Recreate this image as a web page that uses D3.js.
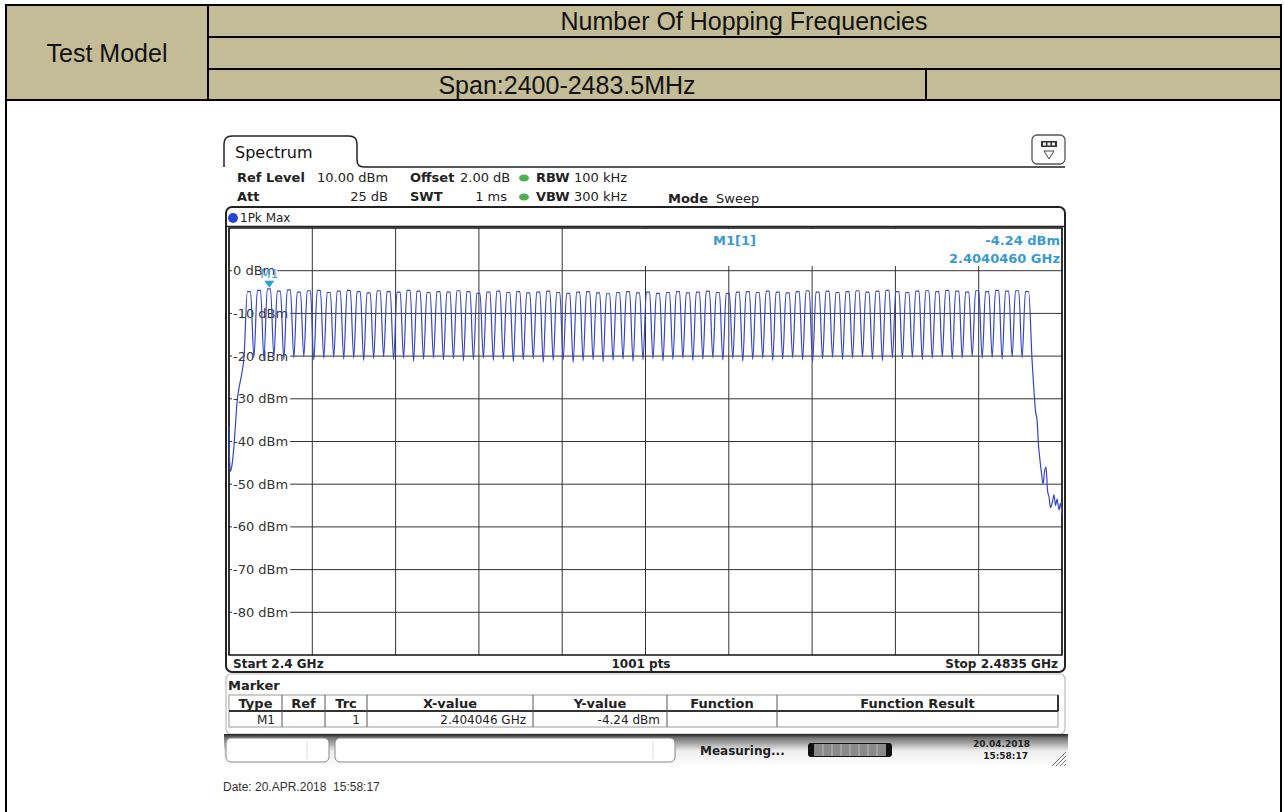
<!DOCTYPE html>
<html>
<head>
<meta charset="utf-8">
<script src="https://cdn.jsdelivr.net/npm/d3@7/dist/d3.min.js"></script>
<style>
  body { margin: 0; background: #fff; }
  svg { display: block; }
  .hdr { font-family: "Liberation Sans", Arial, sans-serif; font-size: 25px; fill: #111; }
  .ins { font-family: "DejaVu Sans", Verdana, sans-serif; font-size: 12px; fill: #222; }
  .b { font-weight: bold; }
  .mk { fill: #3a9ad2; font-weight: bold; font-size: 13px; }
</style>
</head>
<body>
<svg id="chart" width="1285" height="812"></svg>
<script>
// ---------------- data ----------------
const startMHz = 2400
const stopMHz = 2483.5
const channelsMHz = d3.range(2402, 2481)   // 79 hopping channels, 1 MHz apart

// peak level of each channel (dBm)
const peakLevels = [-4.9, -4.6, -4.24, -4.8, -4.5, -5.0, -4.7, -4.6, -5.1, -4.8,
  -4.6, -4.9, -5.2, -4.7, -4.9, -5.0, -4.6, -4.8, -5.1, -4.9,
  -5.0, -4.7, -4.9, -5.3, -5.0, -4.8, -5.1, -4.9, -5.2, -5.0,
  -4.8, -5.1, -5.3, -5.0, -4.9, -5.2, -5.4, -5.1, -4.9, -5.2,
  -5.0, -5.3, -5.1, -4.9, -5.2, -5.0, -4.8, -5.1, -5.3, -5.0,
  -4.9, -5.1, -4.8, -5.0, -5.2, -4.9, -4.7, -5.0, -4.8, -5.1,
  -4.9, -4.7, -5.0, -4.8, -4.6, -4.9, -5.1, -4.8, -4.7, -4.9,
  -4.6, -4.8, -5.0, -4.7, -4.9, -4.6, -4.8, -4.7, -4.9]

// dip between neighbouring channels (dBm)
const troughLevels = [-20.3, -20.6, -20.1, -20.8, -20.4, -20.2, -20.9, -20.5, -20.3, -20.7,
  -20.4, -21.0, -20.6, -20.2, -20.8, -20.5, -21.2, -20.7, -20.4, -20.9,
  -20.6, -21.1, -20.8, -20.5, -21.0, -20.7, -21.3, -20.9, -20.6, -21.4,
  -21.0, -20.8, -21.5, -21.1, -20.9, -21.3, -21.0, -20.7, -21.2, -20.9,
  -20.6, -21.1, -20.8, -20.5, -21.0, -20.7, -20.4, -20.9, -20.6, -21.2,
  -20.8, -20.5, -21.0, -20.7, -20.4, -20.9, -21.3, -20.6, -20.3, -20.8,
  -20.5, -20.2, -20.7, -21.1, -20.4, -20.6, -20.3, -20.8, -20.5, -20.2,
  -20.6, -20.4, -20.1, -20.5, -20.3, -20.7, -20.2, -20.4]

// band edges [MHz, dBm]
const leftEdge = [[2400.0, -36.5], [2400.05, -44], [2400.15, -47], [2400.3, -45.5], [2400.5, -41],
  [2400.65, -36], [2400.8, -31], [2401.0, -27.5], [2401.25, -24.5], [2401.5, -20.4]]
const rightEdge = [[2480.5, -21], [2480.7, -28.5], [2480.85, -33], [2481.0, -35], [2481.15, -41],
  [2481.3, -44.5], [2481.45, -47.5], [2481.6, -50], [2481.75, -47], [2481.9, -46],
  [2482.05, -51.5], [2482.2, -53], [2482.35, -55.5], [2482.55, -54], [2482.7, -52.5],
  [2482.85, -55], [2483.0, -53.5], [2483.2, -56], [2483.35, -54.5], [2483.5, -57]]

const yLevels = [0, -10, -20, -30, -40, -50, -60, -70, -80]
const yTickLabels = ["0 dBm", "-10 dBm", "-20 dBm", "-30 dBm", "-40 dBm", "-50 dBm", "-60 dBm", "-70 dBm", "-80 dBm"]

const marker = { name: "M1", freqMHz: 2404.046, level: -4.24 }

const tableHead = ["Type", "Ref", "Trc", "X-value", "Y-value", "Function", "Function Result"]
const tableRow = ["M1", "", "1", "2.404046 GHz", "-4.24 dBm", "", ""]

// ---------------- page ----------------
const svg = d3.select("#chart")
const tan = "#c4bc97"

// report header table
svg.append("rect").attr("x", 6).attr("y", 5).attr("width", 1275).attr("height", 95)
  .attr("fill", tan).attr("stroke", "#000").attr("stroke-width", 2)
svg.append("line").attr("x1", 208).attr("x2", 208).attr("y1", 5).attr("y2", 100).attr("stroke", "#000").attr("stroke-width", 2)
svg.append("line").attr("x1", 208).attr("x2", 1281).attr("y1", 37).attr("y2", 37).attr("stroke", "#000").attr("stroke-width", 2)
svg.append("line").attr("x1", 208).attr("x2", 1281).attr("y1", 69).attr("y2", 69).attr("stroke", "#000").attr("stroke-width", 2)
svg.append("line").attr("x1", 926).attr("x2", 926).attr("y1", 69).attr("y2", 100).attr("stroke", "#000").attr("stroke-width", 2)
svg.append("path").attr("d", "M6,100 V812 M1281,100 V812").attr("stroke", "#000").attr("stroke-width", 2).attr("fill", "none")

svg.append("text").attr("class", "hdr").attr("x", 107).attr("y", 62).attr("text-anchor", "middle").text("Test Model")
svg.append("text").attr("class", "hdr").attr("x", 744).attr("y", 30).attr("text-anchor", "middle").text("Number Of Hopping Frequencies")
svg.append("text").attr("class", "hdr").attr("x", 567).attr("y", 94).attr("text-anchor", "middle").text("Span:2400-2483.5MHz")

// ---------------- instrument screen ----------------
const ins = svg.append("g").attr("class", "ins")

// tab
ins.append("path")
  .attr("d", "M224,167 V144 Q224,136 232,136 H349 Q357,136 357,144 V160 Q357,167 364,167 H1065")
  .attr("fill", "none").attr("stroke", "#222").attr("stroke-width", 1.5)
ins.append("text").attr("x", 235).attr("y", 158).style("font-size", "16px").style("fill", "#111").text("Spectrum")

// menu icon
ins.append("rect").attr("x", 1032).attr("y", 135).attr("width", 33).attr("height", 29).attr("rx", 5)
  .attr("fill", "#fff").attr("stroke", "#555").attr("stroke-width", 1.3)
ins.append("rect").attr("x", 1041).attr("y", 141).attr("width", 16).attr("height", 6).attr("fill", "#333")
ins.selectAll(".sq").data([0, 1, 2]).enter().append("rect")
  .attr("x", d => 1043 + d * 4.5).attr("y", 142.5).attr("width", 3).attr("height", 3).attr("fill", "#eee")
ins.append("path").attr("d", "M1044,151 H1054 L1049,159 Z").attr("fill", "none").attr("stroke", "#444")

// settings lines
function label(x, y, bold, txt, anchor) {
  ins.append("text").attr("x", x).attr("y", y).attr("class", bold ? "b" : null)
    .attr("text-anchor", anchor || "start").style("font-size", "13px").text(txt)
}
label(237, 182, true, "Ref Level"); label(317, 182, false, "10.00 dBm")
label(237, 201, true, "Att"); label(388, 201, false, "25 dB", "end")
label(410, 182, true, "Offset"); label(460, 182, false, "2.00 dB")
label(410, 201, true, "SWT"); label(507, 201, false, "1 ms", "end")
label(536, 182, true, "RBW"); label(574, 182, false, "100 kHz")
label(536, 201, true, "VBW"); label(574, 201, false, "300 kHz")
label(668, 203, true, "Mode"); label(716, 203, false, "Sweep")
ins.selectAll(".led").data([178, 197]).enter().append("ellipse")
  .attr("cx", 524).attr("cy", d => d).attr("rx", 5).attr("ry", 3.5).attr("fill", "#4caf50")

// plot frame
ins.append("rect").attr("x", 226).attr("y", 207).attr("width", 839).attr("height", 465).attr("rx", 6)
  .attr("fill", "#fff").attr("stroke", "#222").attr("stroke-width", 2)
ins.append("circle").attr("cx", 233).attr("cy", 218).attr("r", 5).attr("fill", "#2545d0")
ins.append("text").attr("x", 240).attr("y", 222).style("font-size", "12px").text("1Pk Max")

const x = d3.scaleLinear().domain([startMHz, stopMHz]).range([229, 1062])
const y = d3.scaleLinear().domain([-90, 10]).range([655, 228])

const grid = ins.append("g").attr("stroke", "#333").attr("stroke-width", 1)
const xDiv = d3.range(0, 11).map(i => startMHz + i * (stopMHz - startMHz) / 10)
grid.selectAll(".vx").data(xDiv).enter().append("line")
  .attr("x1", d => x(d)).attr("x2", d => x(d)).attr("y1", y(10)).attr("y2", y(-90))
grid.selectAll(".hy").data(yLevels).enter().append("line")
  .attr("x1", x(startMHz)).attr("x2", x(stopMHz)).attr("y1", d => y(d)).attr("y2", d => y(d))

// frame around graph area
ins.append("rect").attr("x", x(startMHz)).attr("y", y(10)).attr("width", x(stopMHz) - x(startMHz)).attr("height", y(-90) - y(10))
  .attr("fill", "none").attr("stroke", "#111").attr("stroke-width", 1.5)
ins.append("line").attr("x1", 226).attr("x2", 1065).attr("y1", 226.5).attr("y2", 226.5).attr("stroke", "#222").attr("stroke-width", 1.5)

// level labels sit on a white patch that hides the grid line
const yl = ins.append("g")
yl.selectAll("text").data(yLevels).enter().append("text")
  .attr("x", 233).attr("y", d => y(d) + 4.5).style("font-size", "13px").style("fill", "#333")
  .text((d, i) => yTickLabels[i])
  .each(function() {
    const bb = this.getBBox()
    d3.select(this.parentNode).insert("rect", () => this)
      .attr("x", bb.x - 1).attr("y", bb.y).attr("width", bb.width + 3).attr("height", bb.height).attr("fill", "#fff")
  })

// marker readout box
ins.append("rect").attr("x", x(2441.5) + 1).attr("y", y(10) + 1).attr("width", x(stopMHz) - x(2441.5) - 2).attr("height", 37).attr("fill", "#fff")
ins.append("text").attr("class", "mk").attr("x", 713).attr("y", 245).text("M1[1]")
ins.append("text").attr("class", "mk").attr("x", 1060).attr("y", 245).attr("text-anchor", "end").text("-4.24 dBm")
ins.append("text").attr("class", "mk").attr("x", 1060).attr("y", 263).attr("text-anchor", "end").text("2.4040460 GHz")

// trace: edges plus, per channel, a rounded top between two dips
const tracePts = leftEdge.slice()
channelsMHz.forEach(function(f, i) {
  tracePts.push([f - 0.16, peakLevels[i]])
  tracePts.push([f + 0.16, peakLevels[i]])
  if (i < troughLevels.length) tracePts.push([f + 0.5, troughLevels[i]])
})
rightEdge.forEach(p => tracePts.push(p))

const line = d3.line().x(d => x(d[0])).y(d => y(d[1])).curve(d3.curveMonotoneX)
ins.append("path").datum(tracePts).attr("d", line)
  .attr("fill", "none").attr("stroke", "#3546c4").attr("stroke-width", 1.2)

// marker M1
const mx = x(marker.freqMHz), my = y(marker.level)
ins.append("path").attr("d", `M${mx - 5},${my - 8} H${mx + 5} L${mx},${my - 1} Z`).attr("fill", "#2a9fd6")
ins.append("text").attr("x", mx).attr("y", my - 11).attr("text-anchor", "middle")
  .style("font-size", "12px").style("fill", "#3a9ad2").text(marker.name)

// bottom of the graph frame
ins.append("text").attr("class", "b").attr("x", 233).attr("y", 668).text("Start 2.4 GHz")
ins.append("text").attr("class", "b").attr("x", 641).attr("y", 668).attr("text-anchor", "middle").text("1001 pts")
ins.append("text").attr("class", "b").attr("x", 1058).attr("y", 668).attr("text-anchor", "end").text("Stop 2.4835 GHz")

// marker table panel
ins.append("rect").attr("x", 226).attr("y", 674).attr("width", 839).attr("height", 60).attr("rx", 5)
  .attr("fill", "#fff").attr("stroke", "#bbb").attr("stroke-width", 1.2)
ins.append("text").attr("class", "b").attr("x", 228).attr("y", 690).style("font-size", "13px").text("Marker")

const colEdges = [229, 282, 325, 367, 533, 667, 777, 1058]
ins.append("rect").attr("x", 229).attr("y", 695).attr("width", 829).attr("height", 32).attr("fill", "#fff").attr("stroke", "#999")
ins.append("line").attr("x1", 229).attr("x2", 1058).attr("y1", 711).attr("y2", 711).attr("stroke", "#333").attr("stroke-width", 2)
ins.selectAll(".cs").data(colEdges.slice(1, -1)).enter().append("line")
  .attr("x1", d => d).attr("x2", d => d).attr("y1", 695).attr("y2", 727).attr("stroke", "#555")
ins.append("line").attr("x1", 1058).attr("x2", 1058).attr("y1", 695).attr("y2", 711).attr("stroke", "#333").attr("stroke-width", 2)
ins.selectAll(".th").data(tableHead).enter().append("text").attr("class", "b")
  .attr("x", (d, i) => (colEdges[i] + colEdges[i + 1]) / 2).attr("y", 708).attr("text-anchor", "middle")
  .style("font-size", "13px").text(d => d)
ins.selectAll(".td").data(tableRow).enter().append("text")
  .attr("x", (d, i) => colEdges[i + 1] - 7).attr("y", 724).attr("text-anchor", "end").text(d => d)

// status bar
const sg = svg.append("defs").append("linearGradient").attr("id", "sb").attr("x1", 0).attr("x2", 0).attr("y1", 0).attr("y2", 1)
sg.append("stop").attr("offset", "0").attr("stop-color", "#222")
sg.append("stop").attr("offset", "0.12").attr("stop-color", "#777")
sg.append("stop").attr("offset", "0.5").attr("stop-color", "#eee")
sg.append("stop").attr("offset", "1").attr("stop-color", "#fff")
ins.append("rect").attr("x", 224).attr("y", 734).attr("width", 844).attr("height", 34).attr("fill", "url(#sb)")
ins.append("rect").attr("x", 226).attr("y", 738).attr("width", 103).attr("height", 24).attr("rx", 5).attr("fill", "#fff").attr("stroke", "#888")
ins.append("rect").attr("x", 335).attr("y", 738).attr("width", 340).attr("height", 24).attr("rx", 5).attr("fill", "#fff").attr("stroke", "#888")
ins.append("line").attr("x1", 307).attr("x2", 307).attr("y1", 741).attr("y2", 759).attr("stroke", "#ddd")
ins.append("line").attr("x1", 653).attr("x2", 653).attr("y1", 741).attr("y2", 759).attr("stroke", "#ddd")
ins.append("text").attr("class", "b").attr("x", 700).attr("y", 755).text("Measuring...")
ins.append("rect").attr("x", 808).attr("y", 743).attr("width", 84).attr("height", 14).attr("rx", 3).attr("fill", "#111")
ins.append("rect").attr("x", 814).attr("y", 744).attr("width", 72).attr("height", 12).attr("fill", "#8a8a8a")
ins.selectAll(".seg").data(d3.range(1, 8)).enter().append("line")
  .attr("x1", d => 814 + d * 9).attr("x2", d => 814 + d * 9).attr("y1", 744).attr("y2", 756).attr("stroke", "#bbb")
ins.append("text").attr("class", "b").attr("x", 1030).attr("y", 747).attr("text-anchor", "end").style("font-size", "9px").text("20.04.2018")
ins.append("text").attr("class", "b").attr("x", 1028).attr("y", 759).attr("text-anchor", "end").style("font-size", "9px").text("15:58:17")
ins.selectAll(".hatch").data([0, 4, 8, 12]).enter().append("line")
  .attr("x1", d => 1052 + d).attr("y1", 766).attr("x2", d => 1066).attr("y2", d => 752 + d)
  .attr("stroke", "#777").attr("stroke-width", 1)

svg.append("text").attr("x", 223).attr("y", 791).style("font-family", "'Liberation Sans', Arial, sans-serif")
  .style("font-size", "12px").style("fill", "#333").style("white-space", "pre").text("Date: 20.APR.2018  15:58:17")
</script>
</body>
</html>
